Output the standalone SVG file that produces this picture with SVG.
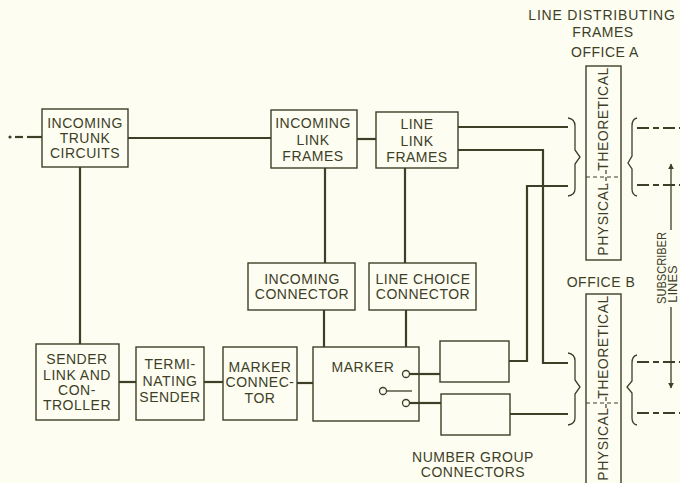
<svg xmlns="http://www.w3.org/2000/svg" width="680" height="483" viewBox="0 0 680 483">
<style>
.bx{fill:none;stroke:#3d3f27;stroke-width:1.4}
.ln{fill:none;stroke:#3d3f27;stroke-width:2.2}
.br{fill:none;stroke:#3d3f27;stroke-width:1.3}
.dl{fill:none;stroke:#3d3f27;stroke-width:2;stroke-dasharray:12 4 6 4}
.dv{fill:none;stroke:#3d3f27;stroke-width:1.2;stroke-dasharray:4 3}
text{font-family:"Liberation Sans",Arial,sans-serif;font-size:14px;fill:#3d3f27;text-anchor:middle;letter-spacing:0.5px}
.sm{font-size:13px;letter-spacing:0}
</style>
<defs>
<marker id="ah" viewBox="0 0 10 10" refX="9" refY="5" markerWidth="6" markerHeight="9" markerUnits="userSpaceOnUse" orient="auto">
<path d="M0,0 L10,5 L0,10 z" fill="#3d3f27"/>
</marker>
</defs>
<rect width="680" height="483" fill="#fdfdf2"/>

<g id="connectors">
<circle cx="10" cy="137" r="1.6" fill="#3d3f27"/>
<line class="ln" x1="15" y1="137" x2="23" y2="137"/>
<line class="ln" x1="27" y1="137" x2="42" y2="137"/>
<line class="ln" x1="128" y1="138" x2="271" y2="138"/>
<line class="ln" x1="357" y1="139" x2="376" y2="139"/>
<line class="ln" x1="80" y1="167" x2="80" y2="344"/>
<line class="ln" x1="325" y1="168" x2="325" y2="263"/>
<line class="ln" x1="324" y1="310" x2="324" y2="347"/>
<line class="ln" x1="405" y1="168" x2="405" y2="263"/>
<line class="ln" x1="406" y1="310" x2="406" y2="347"/>
<line class="ln" x1="119" y1="382" x2="136" y2="382"/>
<line class="ln" x1="204" y1="382" x2="223" y2="382"/>
<line class="ln" x1="297" y1="383" x2="313" y2="383"/>
<polyline class="ln" points="458,127 568,127"/>
<polyline class="ln" points="458,150 543,150 543,363 568,363"/>
<polyline class="ln" points="568,186 527,186 527,361 509,361"/>
<polyline class="ln" points="510,414 568,414"/>
<circle class="br" cx="406" cy="374" r="3.5"/>
<line class="ln" x1="409.5" y1="374" x2="440" y2="374"/>
<circle class="br" cx="383" cy="391" r="3.5"/>
<line class="br" x1="386.5" y1="391" x2="412" y2="391"/>
<circle class="br" cx="406" cy="403" r="3.5"/>
<line class="ln" x1="409.5" y1="403" x2="441" y2="403"/>
<line class="dl" x1="637" y1="128" x2="680" y2="128"/>
<line class="dl" x1="637" y1="185" x2="680" y2="185"/>
<line class="dl" x1="637" y1="362" x2="680" y2="362"/>
<line class="dl" x1="637" y1="413" x2="680" y2="413"/>
<line class="br" x1="671" y1="230" x2="671" y2="164" marker-end="url(#ah)"/>
<line class="br" x1="671" y1="307" x2="671" y2="388" marker-end="url(#ah)"/>
</g>

<g id="incoming-trunk-circuits">
<rect class="bx" x="42" y="109" width="86" height="58"/>
<text x="85" y="128">INCOMING</text>
<text x="85" y="143">TRUNK</text>
<text x="85" y="158">CIRCUITS</text>
</g>

<g id="incoming-link-frames">
<rect class="bx" x="271" y="110" width="86" height="58"/>
<text x="313" y="128">INCOMING</text>
<text x="313" y="145">LINK</text>
<text x="313" y="161">FRAMES</text>
</g>

<g id="line-link-frames">
<rect class="bx" x="376" y="112" width="82" height="56"/>
<text x="417" y="129">LINE</text>
<text x="417" y="146">LINK</text>
<text x="417" y="162">FRAMES</text>
</g>

<g id="incoming-connector">
<rect class="bx" x="248" y="263" width="107" height="47"/>
<text x="302" y="284">INCOMING</text>
<text x="302" y="299">CONNECTOR</text>
</g>

<g id="line-choice-connector">
<rect class="bx" x="369" y="263" width="107" height="47"/>
<text x="423" y="284">LINE CHOICE</text>
<text x="423" y="299">CONNECTOR</text>
</g>

<g id="sender-link">
<rect class="bx" x="36" y="344" width="83" height="76"/>
<text x="77" y="364">SENDER</text>
<text x="77" y="380">LINK AND</text>
<text x="77" y="395">CON-</text>
<text x="77" y="410">TROLLER</text>
</g>

<g id="terminating-sender">
<rect class="bx" x="136" y="347" width="68" height="73"/>
<text x="170" y="369">TERMI-</text>
<text x="170" y="386">NATING</text>
<text x="170" y="402">SENDER</text>
</g>

<g id="marker-connector">
<rect class="bx" x="223" y="347" width="74" height="73"/>
<text x="260" y="372">MARKER</text>
<text x="260" y="387">CONNEC-</text>
<text x="260" y="403">TOR</text>
</g>

<g id="marker">
<rect class="bx" x="313" y="347" width="106" height="74"/>
<text x="363" y="372">MARKER</text>
</g>

<g id="number-group-connectors">
<rect class="bx" x="440" y="341" width="69" height="41"/>
<rect class="bx" x="441" y="394" width="69" height="41"/>
<text x="473" y="462">NUMBER GROUP</text>
<text x="473" y="477">CONNECTORS</text>
</g>

<g id="line-distributing-frames">
<text x="602" y="20" style="letter-spacing:0.8px">LINE DISTRIBUTING</text>
<text x="603" y="37">FRAMES</text>
<text x="605" y="57">OFFICE A</text>
<text x="601" y="287">OFFICE B</text>
</g>

<g id="office-a">
<rect class="bx" x="586" y="66" width="35" height="194"/>
<line class="dv" x1="586" y1="177" x2="621" y2="177"/>
<line class="dv" x1="606" y1="170" x2="606" y2="185"/>
<text transform="translate(608,119) rotate(-90)">THEORETICAL</text>
<text transform="translate(608,219) rotate(-90)">PHYSICAL</text>
<path class="br" d="M568,118 Q575,119 575,126 L575,150 L580,157 L575,164 L575,189 Q575,195 568,196"/>
<path class="br" d="M637,118 Q632,119 632,126 L632,156 L628,163 L632,169 L632,189 Q632,195 637,196"/>
</g>

<g id="office-b">
<rect class="bx" x="586" y="294" width="35" height="195"/>
<line class="dv" x1="586" y1="403" x2="621" y2="403"/>
<line class="dv" x1="606" y1="397" x2="606" y2="410"/>
<text transform="translate(608,347) rotate(-90)">THEORETICAL</text>
<text transform="translate(608,444) rotate(-90)">PHYSICAL</text>
<path class="br" d="M568,353 Q575,354 575,361 L575,380 L580,387 L575,394 L575,418 Q575,424 568,425"/>
<path class="br" d="M637,355 Q632,356 632,363 L632,381 L627,387 L632,393 L632,418 Q632,424 637,425"/>
</g>

<g id="subscriber-lines">
<text class="sm" transform="translate(666,268) rotate(-90)" textLength="72" lengthAdjust="spacingAndGlyphs">SUBSCRIBER</text>
<text class="sm" transform="translate(677,284) rotate(-90)">LINES</text>
</g>
</svg>
